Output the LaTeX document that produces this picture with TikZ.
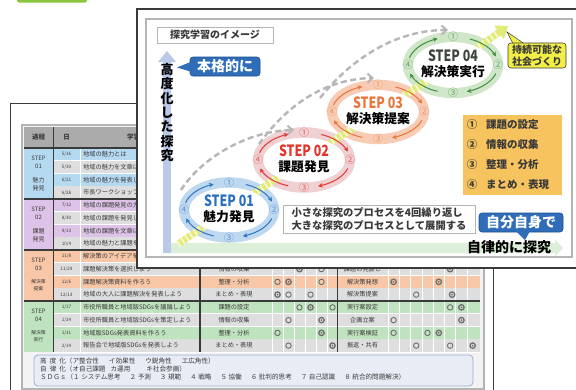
\documentclass[tikz,border=0pt]{standalone}
\usepackage{fontspec}
\newfontfamily\jp{Noto Sans CJK JP}
\newfontfamily\stepf[FakeStretch=0.8]{Noto Sans CJK JP}
\usetikzlibrary{arrows.meta}
\newcommand\fsz[2]{\fontsize{#1pt}{#2pt}\selectfont}
\definecolor{tabgreen}{HTML}{8CC63F}
\definecolor{cardline}{HTML}{3A3A3A}
\definecolor{framegray}{HTML}{B4B4B4}
\definecolor{tablebg}{HTML}{F3F3F3}
\definecolor{headgray}{HTML}{ABABAB}
\definecolor{rowgray}{HTML}{DEDEDE}
\definecolor{stepc0}{HTML}{B6D9F2}
\definecolor{stepc1}{HTML}{DDC3E7}
\definecolor{stepc2}{HTML}{F8C7A7}
\definecolor{stepc3}{HTML}{BFE3BE}
\definecolor{tabtext}{HTML}{3A3A3A}
\definecolor{circgray}{HTML}{6E6E6E}
\definecolor{footfill}{HTML}{E8ECF5}
\definecolor{footline}{HTML}{9CADD2}
\definecolor{axisblue}{HTML}{B9C9E7}
\definecolor{bandgreen}{HTML}{DCEFD8}
\definecolor{bubbleblue}{HTML}{2F6DB8}
\definecolor{bubbleedge}{HTML}{1F4F8F}
\definecolor{yellowbox}{HTML}{F3EE45}
\definecolor{legendor}{HTML}{F6C35E}
\definecolor{pathyellow}{HTML}{E2EA78}
\definecolor{dashgray}{HTML}{B6B6B6}
\definecolor{ringA}{HTML}{BED8EF}
\definecolor{ringB}{HTML}{EFD0D3}
\definecolor{ringC}{HTML}{F8CCB4}
\definecolor{ringD}{HTML}{D0E6C9}
\definecolor{arrA}{HTML}{2F74C4}
\definecolor{arrB}{HTML}{E3362F}
\definecolor{arrC}{HTML}{E8743A}
\definecolor{arrD}{HTML}{3F8E3F}
\definecolor{stA}{HTML}{2A6FC0}
\definecolor{stB}{HTML}{E2352E}
\definecolor{stC}{HTML}{E8763A}
\definecolor{stD}{HTML}{3C463C}
\begin{document}
\begin{tikzpicture}[x=1pt,y=-1pt,
  tabtxt/.style={font=\jp\fsz{6.2}{7}, text=tabtext, inner sep=0pt},
  datetxt/.style={font=\jp\fsz{4.6}{5}, text=tabtext, inner sep=0pt},
  steptxt/.style={font=\jp\fsz{6}{7.6}, text=tabtext, inner sep=0pt, align=center},
  circ/.style={draw=circgray, line width=0.9pt},
  jpb/.style={font=\jp\bfseries, inner sep=0pt},
  bubble/.style={fill=bubbleblue, draw=bubbleedge, line width=0.6pt, rounded corners=3pt, text=white, font=\jp\bfseries\fsz{14}{14}, inner sep=0pt},
  dashar/.style={draw=dashgray, line width=2.4pt, dash pattern=on 6pt off 3.5pt, -{Straight Barb[length=5pt,width=9pt,line width=2pt]}},
  ringarrow/.style={line width=1pt, -{Stealth[length=4.5pt,width=4.5pt]}},
  numtxt/.style={font=\jp\fsz{10}{10}, inner sep=0pt},
  legtxt/.style={font=\jp\bfseries\fsz{10.5}{10.5}, text=tabtext, inner sep=0pt}
]
\useasboundingbox (0,0) rectangle (576,389);
\clip (0,0) rectangle (576,389);
\fill[white] (0,0) rectangle (576,389);

% green tab
\fill[tabgreen, rounded corners=2pt] (17,-4) rectangle (87,2.5);

% ---------------- back card (table sheet)
\draw[cardline, fill=white, line width=0.9pt] (10,103) rectangle (493,400);
\draw[framegray, fill=tablebg, line width=1.4pt] (22,125) rectangle (484,389);
\fill[headgray] (24,127) rectangle (480,148);
\node[tabtxt, font=\jp\bfseries\fsz{6.5}{7}] (h1) at (38.5,137.5) {過程};
\node[tabtxt, font=\jp\bfseries\fsz{6.5}{7}] (h2) at (66.5,137.5) {日};
\node[tabtxt, font=\jp\bfseries\fsz{6.5}{7}] (h3) at (140,137.5) {学習活動};

\foreach \i in {0,...,15}{
  \pgfmathsetmacro\ya{148+\i*12.75}
  \pgfmathsetmacro\yb{\ya+12.75}
  \pgfmathtruncatemacro\s{int(\i/4)}
  \pgfmathtruncatemacro\r{mod(\i,4)}
  \ifodd\r \def\rc{rowgray}\else\def\rc{stepc\s}\fi
  \fill[\rc] (53,\ya) rectangle (480,\yb);
  \draw[white, line width=0.7pt] (53,\yb) -- (480,\yb);
}
\foreach \s in {0,...,3}{
  \fill[stepc\s] (24,{148+\s*51}) rectangle (53,{148+(\s+1)*51});
}
% white column separators
\foreach \x in {80,283.5,294.5,305.5,316.5,327.5,399.3,410.6,421.9,433.2,444.5,455.8,467.1}{
  \draw[white, line width=0.7pt] (\x,148) -- (\x,352);
}
\draw[white, line width=0.7pt] (272,148) -- (272,352);
\draw[white, line width=0.7pt] (388,148) -- (388,352);
% dark structure lines
\foreach \y in {148,199,250,301}{
  \draw[cardline, line width=1.2pt] (24,\y) -- (480,\y);
}
\draw[cardline, line width=1pt] (53,127) -- (53,352);
\draw[cardline, line width=1.2pt] (200,127) -- (200,352);
\draw[cardline, line width=1.2pt] (337.5,127) -- (337.5,352);

% step column labels
\node[steptxt] (s1a) at (38.5,162) {STEP\\01};
\node[steptxt] (s1b) at (38.5,184.5) {魅力\\発見};
\node[steptxt] (s2a) at (38.5,213) {STEP\\02};
\node[steptxt] (s2b) at (38.5,235.5) {課題\\発見};
\node[steptxt] (s3a) at (38.5,264) {STEP\\03};
\node[steptxt, font=\jp\fsz{4.8}{7}] (s3b) at (38.5,285) {解決策\\提案};
\node[steptxt] (s4a) at (38.5,315) {STEP\\04};
\node[steptxt, font=\jp\fsz{4.8}{7}] (s4b) at (38.5,336) {解決策\\実行};

% dates and activities
\foreach \i/\d/\t in {0/{5/16}/地域の魅力とは,1/{5/30}/地域の魅力を文章にしよう,2/{6/21}/地域の魅力を発表しよう,3/{6/28}/市長ワークショップ,
  4/{7/12}/地域の課題発見の方法を学ぼう,5/{8/30}/地域の課題を発見しよう,6/{9/13}/地域の課題を文章にしよう,7/{10/4}/地域の魅力と課題を発表しよう,
  8/{11/8}/解決策のアイデアを出そう,9/{11/29}/課題解決策を選択しよう,10/{12/6}/課題解決策資料を作ろう,11/{12/13}/地域の大人に課題解決を発表しよう,
  12/{1/17}/市役所職員と地域版SDGsを議論しよう,13/{1/24}/市役所職員と地域版SDGsを策定しよう,14/{1/31}/地域版SDGs発表資料を作ろう,15/{2/14}/報告会で地域版SDGsを発表しよう}{
  \node[datetxt] (d\i) at (66.5,{154.375+12.75*\i}) {\d};
  \node[tabtxt, anchor=west] (t\i) at (83,{154.375+12.75*\i}) {\t};
}
% process column and right column (visible rows)
\foreach \i/\p/\q in {9/情報の収集/課題の見直し,10/整理・分析/解決策発想,11/まとめ・表現/解決策提案,12/課題の設定/実行案設定,13/情報の収集/企画立案,14/整理・分析/実行案検証,15/まとめ・表現/振返・共有}{
  \node[tabtxt] (p\i) at (234,{154.375+12.75*\i}) {\p};
  \node[tabtxt] (q\i) at (362.5,{154.375+12.75*\i}) {\q};
}
% circles: open
\foreach \x/\i in {321.5/9,277.5/10,321.5/10,288.5/11,310.5/11,299.5/12,332.5/12,288.5/13,277.5/14,288.5/15,
  416.2/11,450.1/12,393.6/13,393.6/14,427.5/14,416.2/15,450.1/15}{
  \draw[circ] (\x,{154.375+12.75*\i}) circle[radius=2.7pt];
}
% circles: double
\foreach \x/\i in {299.5/9,450.1/9,288.5/10,393.6/10,438.8/10,277.5/11,452.1/11,310.5/12,461.4/12,321.5/13,461.4/13,321.5/14,438.8/14,332.5/15,472.7/15}{
  \draw[circ, line width=1.3pt] (\x,{154.375+12.75*\i}) circle[radius=2.7pt];
  \fill[circgray] (\x,{154.375+12.75*\i}) circle[radius=1pt];
}
% footer box
\draw[footline, fill=footfill, line width=0.8pt, rounded corners=4pt] (34,355) rectangle (473,386);
\node[tabtxt, anchor=west, font=\jp\fsz{6.6}{7}] (f1) at (40,360.5) {高\hspace{3pt}度\hspace{3pt}化（ア整合性\hspace{10pt}イ効果性\hspace{10pt}ウ鋭角性\hspace{10pt}エ広角性）};
\node[tabtxt, anchor=west, font=\jp\fsz{6.6}{7}] (f2) at (40,368.5) {自\hspace{3pt}律\hspace{3pt}化（オ自己課題\hspace{5pt}カ運用\hspace{16pt}キ社会参画）};
\node[tabtxt, anchor=west, font=\jp\fsz{6.6}{7}] (f3) at (40,376.5) {ＳＤＧｓ（１ システム思考\hspace{9pt}２ 予測\hspace{9pt}３ 規範\hspace{9pt}４ 戦略\hspace{9pt}５ 協働\hspace{9pt}６ 批判的思考\hspace{9pt}７ 自己認識\hspace{9pt}８ 統合的問題解決）};

% ---------------- front card
\draw[cardline, line width=1.5pt, fill=white] (137,9) rectangle (600,268);
\draw[framegray, line width=1.3pt] (146,19) rectangle (572,257);

% title
\node[draw=framegray, line width=1pt, fill=white, minimum width=116pt, minimum height=16pt, inner sep=0pt,
  font=\jp\bfseries\fsz{10}{10}, text=tabtext] (title) at (215,35) {探究学習のイメージ};

% axes
\fill[bandgreen] (163,243) -- (555,243) -- (555,239.5) -- (563,248) -- (555,256.5) -- (555,253) -- (163,253) -- cycle;
\fill[axisblue] (163,62) rectangle (171,253);
\fill[axisblue] (158,62) -- (167,51) -- (176,62) -- cycle;
\node[jpb, font=\jp\bfseries\fsz{13}{14.3}, align=center] (vtext) at (167,112.5) {高\\度\\化\\し\\た\\探\\究};
\node[jpb, font=\jp\bfseries\fsz{14}{14}] (htext) at (509,247) {自律的に探究};

% bubbles
\node[bubble, minimum width=70pt, minimum height=19pt] (b1) at (225,66.5) {本格的に};
\fill[bubbleblue] (190.5,62) -- (177,67.5) -- (190.5,71.5) -- cycle;
\node[bubble, minimum width=84pt, minimum height=19pt] (b2) at (521,222.5) {自分自身で};
\fill[bubbleblue] (516,231) -- (525,240) -- (530,231) -- cycle;

% legend
\node[fill=legendor, minimum width=99pt, minimum height=80pt, inner sep=0pt] (legend) at (512.5,155) {};
\foreach \n/\t/\y in {①/課題の設定/125,②/情報の収集/145,③/整理・分析/165,④/まとめ・表現/185}{
  \node[legtxt] at (472,\y) {\n};
  \node[legtxt, anchor=west] at (486,\y) {\t};
}

% explanation box
\node[draw=framegray, line width=1pt, fill=white, minimum width=192pt, minimum height=28pt, inner sep=0pt,
  font=\jp\bfseries\fsz{10.3}{13.5}, text=tabtext, align=left] (expl) at (379,219)
  {小さな探究のプロセスを4回繰り返し\\大きな探究のプロセスとして展開する};

% ---------------- step rings
\def\steplist{229/210/45/27.5/ringA,304/160/46/27.5/ringB,378/112/46/27/ringC,453/65/45/28/ringD}
\foreach \cx/\cy/\a/\b/\rc in \steplist{
  \draw[\rc, line width=10.5pt, fill=white] (\cx,\cy) ellipse [x radius={\a*1pt}, y radius={\b*1pt}];
}
% yellow diagonal path
\coordinate (p0) at (178,244);
\coordinate (p5) at (508,26);
\draw[pathyellow, line width=7pt, -{Triangle[length=11pt,width=16pt]}] (p0) -- (229,210) -- (304,160) -- (378,112) -- (453,65) -- (p5);
\draw[white, opacity=0.75, line width=7pt, dash pattern=on 1.6pt off 3.4pt, shorten >=11pt] (p0) -- (229,210) -- (304,160) -- (378,112) -- (453,65) -- (p5);
\foreach \cx/\cy/\a/\b/\rc in \steplist{
  \fill[white] (\cx,\cy) ellipse [x radius={(\a-5.2)*1pt}, y radius={(\b-5.2)*1pt}];
}

% gray dashed transitions (upper-left of one step to the first point of the next)
\draw[dashar] (181,190) .. controls (200,160) and (245,131) .. (294,130);
\draw[dashar] (259,144) .. controls (285,108) and (322,79) .. (374,78);
\draw[dashar] (320,98) .. controls (352,58) and (396,30) .. (448,30);

% ring arrows, numbers, labels
\foreach \cx/\cy/\a/\b/\ac/\sc/\st/\lb/\k in {
  229/210/45/27.5/arrA/stA/STEP 01/魅力発見/1,
  304/160/46/27.5/arrB/stB/STEP 02/課題発見/2,
  378/112/46/27/arrC/stC/STEP 03/解決策提案/3,
  453/65/45/28/arrD/stD/STEP 04/解決策実行/4}{
  \draw[ringarrow, \ac] plot[domain=-165:-110, samples=20, smooth] ({\cx+\a*cos(\x)}, {\cy+\b*sin(\x)});
  \draw[ringarrow, \ac] plot[domain=-68:-18, samples=20, smooth] ({\cx+\a*cos(\x)}, {\cy+\b*sin(\x)});
  \draw[ringarrow, \ac] plot[domain=18:72, samples=20, smooth] ({\cx+\a*cos(\x)}, {\cy+\b*sin(\x)});
  \draw[ringarrow, \ac] plot[domain=110:162, samples=20, smooth] ({\cx+\a*cos(\x)}, {\cy+\b*sin(\x)});
  \node[numtxt, text=\ac!80] (n1-\k) at (\cx,\cy-\b) {①};
  \node[numtxt, text=\ac!80] (n2-\k) at (\cx+\a,\cy) {②};
  \node[numtxt, text=\ac!80] (n3-\k) at (\cx,\cy+\b) {③};
  \node[numtxt, text=\ac!80] (n4-\k) at (\cx-\a,\cy) {④};
  \node[font=\stepf\bfseries\fsz{15.5}{15.5}, text=\sc, inner sep=0pt] (st-\k) at (\cx,\cy-9) {\st};
  \node[jpb, font=\jp\bfseries\fsz{12.8}{12.8}] (lb-\k) at (\cx,\cy+6.5) {\lb};
}

% yellow bubble
\fill[yellowbox] (513,44) -- (507,32) -- (524,44) -- cycle;
\draw[cardline, line width=0.5pt] (513,43.5) -- (507,32) -- (524,43.5);
\node[fill=yellowbox, draw=cardline, line width=0.6pt, rounded corners=3pt, minimum width=58pt, minimum height=25pt, inner sep=0pt,
  font=\jp\bfseries\fsz{10}{12}, align=center, text=tabtext] (goal) at (537,55.5) {持続可能な\\社会づくり};
\end{tikzpicture}
\end{document}
